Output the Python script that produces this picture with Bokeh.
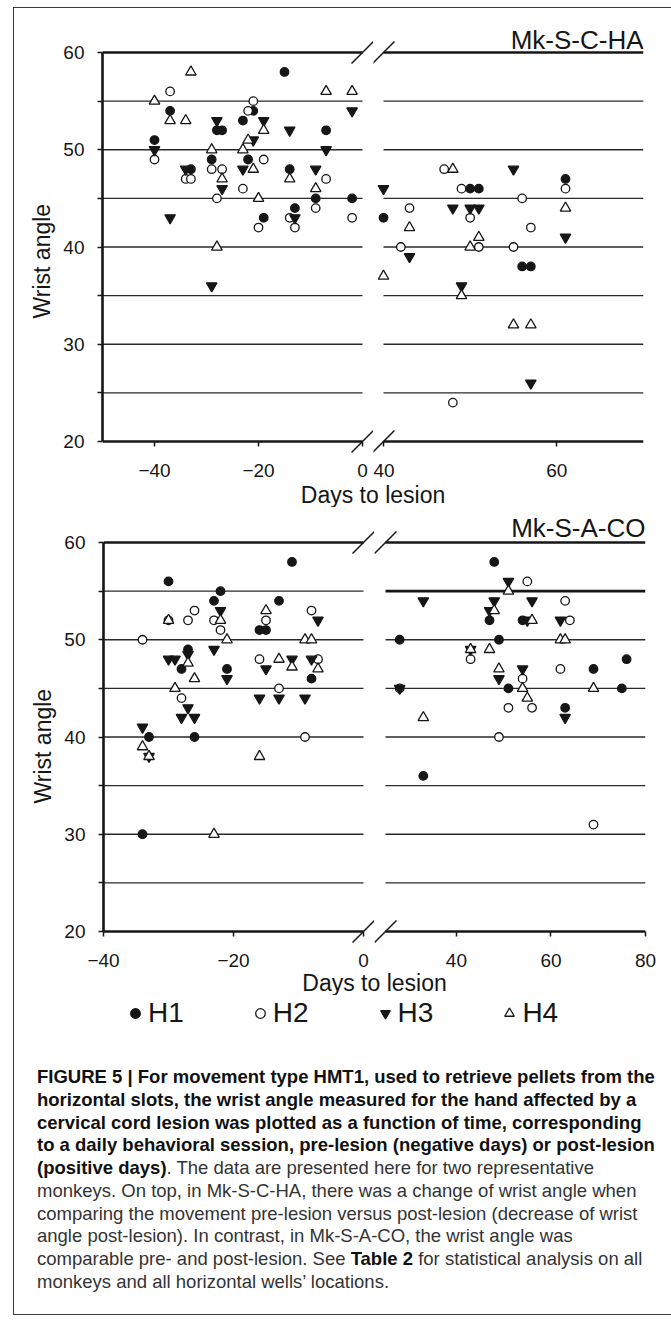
import math
from bokeh.plotting import figure
from bokeh.layouts import column, row
from bokeh.models import (Range1d, Label, Legend, LegendItem, Div, FixedTicker,
                          ColumnDataSource, Title)
from bokeh.embed import file_html
from bokeh.resources import INLINE

# ---------------- data: Mk-S-C-HA (top panel) ----------------
SCHA_H1_DAY = [-40, -37, -33, -29, -28, -27, -23, -22, -21, -19, -15, -14, -13, -9, -7, -2,
               40, 50, 51, 56, 57, 61]
SCHA_H1_ANG = [51, 54, 48, 49, 52, 52, 53, 49, 54, 43, 58, 48, 44, 45, 52, 45,
               43, 46, 46, 38, 38, 47]
SCHA_H2_DAY = [-40, -37, -34, -33, -29, -28, -27, -23, -22, -21, -20, -19, -14, -13, -9, -7, -2,
               42, 43, 47, 48, 49, 50, 51, 55, 56, 57, 61]
SCHA_H2_ANG = [49, 56, 47, 47, 48, 45, 48, 46, 54, 55, 42, 49, 43, 42, 44, 47, 43,
               40, 44, 48, 24, 46, 43, 40, 40, 45, 42, 46]
SCHA_H3_DAY = [-40, -37, -34, -29, -28, -27, -23, -21, -19, -14, -13, -9, -7, -2,
               40, 43, 48, 49, 50, 51, 55, 57, 61]
SCHA_H3_ANG = [50, 43, 48, 36, 53, 46, 48, 51, 53, 52, 43, 48, 50, 54,
               46, 39, 44, 36, 44, 44, 48, 26, 41]
SCHA_H4_DAY = [-40, -37, -34, -33, -29, -28, -27, -23, -22, -21, -20, -19, -14, -9, -7, -2,
               40, 43, 48, 49, 50, 51, 55, 57, 61]
SCHA_H4_ANG = [55, 53, 53, 58, 50, 40, 47, 50, 51, 48, 45, 52, 47, 46, 56, 56,
               37, 42, 48, 35, 40, 41, 32, 32, 44]

# ---------------- data: Mk-S-A-CO (bottom panel) ----------------
SACO_H1_DAY = [-34, -33, -30, -28, -27, -26, -23, -22, -21, -16, -15, -13, -11, -8,
               28, 33, 47, 48, 49, 51, 54, 63, 69, 75, 76]
SACO_H1_ANG = [30, 40, 56, 47, 49, 40, 54, 55, 47, 51, 51, 54, 58, 46,
               50, 36, 52, 58, 50, 45, 52, 43, 47, 45, 48]
SACO_H2_DAY = [-34, -30, -28, -27, -26, -23, -22, -16, -15, -13, -9, -8, -7,
               28, 43, 49, 51, 54, 55, 56, 62, 63, 64, 69]
SACO_H2_ANG = [50, 52, 44, 52, 53, 52, 51, 48, 52, 45, 40, 53, 48,
               45, 48, 40, 43, 46, 56, 43, 47, 54, 52, 31]
SACO_H3_DAY = [-34, -33, -30, -29, -28, -27, -27, -26, -23, -22, -21, -16, -15, -13, -11, -9, -8, -7,
               28, 33, 43, 47, 48, 49, 51, 54, 55, 56, 62, 63]
SACO_H3_ANG = [41, 38, 48, 48, 42, 48.5, 43, 42, 49, 53, 46, 44, 47, 44, 48, 44, 48, 52,
               45, 54, 49, 53, 54, 46, 56, 47, 52, 54, 52, 42]
SACO_H4_DAY = [-34, -33, -30, -29, -27, -26, -23, -22, -21, -16, -15, -13, -11, -9, -8, -7,
               33, 43, 47, 48, 49, 51, 54, 55, 56, 62, 63, 69]
SACO_H4_ANG = [39, 38, 52, 45, 47.6, 46, 30, 52, 50, 38, 53, 48, 47.2, 50, 50, 47,
               42, 49, 49, 53, 47, 55, 45, 44, 52, 50, 50, 45]

SERIES_NAMES = ["H1", "H2", "H3", "H4"]
Y_MIN, Y_MAX = 20, 60
GRID_LEVELS = list(range(20, 61, 5))
Y_LABEL_TICKS = [20, 30, 40, 50, 60]
Y_MINOR_TICKS = [25, 35, 45, 55]

# ---------------- style ----------------
PPU = 9.725          # pixels per degree
INK = "#161616"
GRID = "#2a2a2a"
FONT = "Liberation Sans"
MARKERS = {"H1": ("circle", INK, 8.5), "H2": ("circle", "white", 8.5),
           "H3": ("inverted_triangle", INK, 10.5), "H4": ("triangle", "white", 10.5)}


def half(days_list, ang_list, seg, ppd, frame_w, pad_top, pad_bot, borders, ticks,
         slash_x, side, thick=(), title=None, title_dy=0, ylab_offset=0):
    lo, hi = seg
    if side == "left":
        xr = Range1d(lo, lo + frame_w / ppd)
    else:
        xr = Range1d(hi - frame_w / ppd, hi)
    yr = Range1d(Y_MIN - pad_bot / PPU, Y_MAX + pad_top / PPU)
    frame_h = int(round((Y_MAX - Y_MIN) * PPU + pad_top + pad_bot))
    bl, br, bt, bb = borders
    p = figure(frame_width=frame_w, frame_height=frame_h, x_range=xr, y_range=yr,
               toolbar_location=None, output_backend="svg",
               min_border_left=bl, min_border_right=br, min_border_top=bt, min_border_bottom=bb,
               y_axis_location="left" if side == "left" else None,
               outline_line_color=None, background_fill_color="white", border_fill_color="white")
    p.grid.visible = False

    xa = p.xaxis[0]
    xa.ticker = FixedTicker(ticks=ticks)
    xa.axis_line_color = None
    xa.major_tick_in = pad_bot
    xa.major_tick_out = -(pad_bot - 5)
    xa.major_tick_line_color = INK
    xa.major_tick_line_width = 1.5
    xa.minor_tick_line_color = None
    xa.major_label_standoff = 10
    xa.major_label_text_font = FONT
    xa.major_label_text_font_size = "19px"
    xa.major_label_text_color = INK

    if side == "left":
        ya = p.yaxis[0]
        ya.ticker = FixedTicker(ticks=Y_LABEL_TICKS, minor_ticks=Y_MINOR_TICKS)
        ya.bounds = (Y_MIN, Y_MAX)
        ya.axis_line_width = 2.6
        ya.axis_line_color = INK
        ya.major_tick_out = 5
        ya.major_tick_in = 0
        ya.minor_tick_out = 5
        ya.minor_tick_in = 0
        ya.major_tick_line_width = 1.3
        ya.minor_tick_line_width = 1.3
        ya.major_tick_line_color = INK
        ya.minor_tick_line_color = INK
        ya.major_label_standoff = 13
        ya.major_label_text_font = FONT
        ya.major_label_text_font_size = "19px"
        ya.major_label_text_color = INK
        p.add_layout(Title(text="Wrist angle", align="left", offset=ylab_offset,
                           text_font=FONT, text_font_size="23px", text_font_style="normal",
                           text_color=INK, standoff=12), "left")

    widths = [2.6 if (lv in (Y_MIN, Y_MAX) or lv in thick) else 1.3 for lv in GRID_LEVELS]
    colors = [INK if w > 2 else GRID for w in widths]
    src = ColumnDataSource(dict(x0=[lo] * len(GRID_LEVELS), x1=[hi] * len(GRID_LEVELS),
                                y=GRID_LEVELS, w=widths, c=colors))
    p.segment(x0="x0", x1="x1", y0="y", y1="y", line_width="w", line_color="c", source=src)

    # axis-break marks
    p.scatter(x=[slash_x, slash_x], y=[Y_MIN, Y_MAX], marker="dash", size=31,
              angle=math.pi / 4, line_color=INK, line_width=1.5)

    for name, d, a in zip(SERIES_NAMES, days_list, ang_list):
        mk, fill, size = MARKERS[name]
        xs = [x for x in d if lo <= x <= hi]
        ys = [y for x, y in zip(d, a) if lo <= x <= hi]
        p.scatter(x=xs, y=ys, marker=mk, size=size, fill_color=fill,
                  line_color=INK, line_width=1.3)

    if title:
        p.add_layout(Label(x=hi, y=Y_MAX, text=title, text_align="right",
                           text_baseline="alphabetic", y_offset=title_dy,
                           text_font=FONT, text_font_size="26px", text_color=INK))
    return p


top_days = [SCHA_H1_DAY, SCHA_H2_DAY, SCHA_H3_DAY, SCHA_H4_DAY]
top_angs = [SCHA_H1_ANG, SCHA_H2_ANG, SCHA_H3_ANG, SCHA_H4_ANG]
bot_days = [SACO_H1_DAY, SACO_H2_DAY, SACO_H3_DAY, SACO_H4_DAY]
bot_angs = [SACO_H1_ANG, SACO_H2_ANG, SACO_H3_ANG, SACO_H4_ANG]

tl = half(top_days, top_angs, (-50, 0), 5.2, 271, 28, 12, (88, 0, 16, 26),
          [-40, -20, 0], 0, "left", ylab_offset=135)
tr = half(top_days, top_angs, (40, 70), 260 / 30, 270, 28, 12, (0, 19, 16, 26),
          [40, 60], 40, "right", title="Mk-S-C-HA", title_dy=13)
bl = half(bot_days, bot_angs, (-40, 0), 6.5, 271, 32, 12, (89, 0, 3, 26),
          [-40, -20, 0], 0, "left", ylab_offset=140)
br = half(bot_days, bot_angs, (25, 80), 260 / 55, 271, 32, 12, (0, 17, 3, 26),
          [40, 60, 80], 25, "right", thick=(55,), title="Mk-S-A-CO", title_dy=15)


def text_strip(h, cx, cy, txt):
    f = figure(width=648, height=h, x_range=(0, 1), y_range=(0, 1), toolbar_location=None,
               output_backend="svg", x_axis_location=None, y_axis_location=None,
               outline_line_color=None, min_border=0)
    f.grid.visible = False
    f.add_layout(Label(x=cx, y=cy, x_units="screen", y_units="screen", text=txt,
                       text_align="center", text_baseline="middle", text_font=FONT,
                       text_font_size="23px", text_color=INK))
    return f


days1 = text_strip(28, 358.5, 13, "Days to lesion")
days2 = text_strip(26, 360, 13, "Days to lesion")

# legend
lf = figure(width=648, height=42, x_range=(0, 1), y_range=(0, 1), toolbar_location=None,
            output_backend="svg", x_axis_location=None, y_axis_location=None,
            outline_line_color=None, min_border=0)
lf.grid.visible = False
items = []
for name in SERIES_NAMES:
    mk, fill, size = MARKERS[name]
    r = lf.scatter(x=[math.nan], y=[math.nan], marker=mk, fill_color=fill,
                   line_color=INK, line_width=1.3)
    items.append(LegendItem(label=name, renderers=[r]))
leg = Legend(items=items, orientation="horizontal", location=(109, 8), glyph_width=24,
             glyph_height=24, label_standoff=1, spacing=64, padding=0, margin=0,
             border_line_color=None, background_fill_alpha=0,
             label_text_font=FONT, label_text_font_size="28px",
             label_text_color=INK)
lf.add_layout(leg)

CAPTION_BOLD = ("FIGURE 5 | For movement type HMT1, used to retrieve pellets from the<br>"
                "horizontal slots, the wrist angle measured for the hand affected by a<br>"
                "cervical cord lesion was plotted as a function of time, corresponding<br>"
                "to a daily behavioral session, pre-lesion (negative days) or post-lesion<br>"
                "(positive days)")
CAPTION_REST = (". The data are presented here for two representative<br>"
                "monkeys. On top, in Mk-S-C-HA, there was a change of wrist angle when<br>"
                "comparing the movement pre-lesion versus post-lesion (decrease of wrist<br>"
                "angle post-lesion). In contrast, in Mk-S-A-CO, the wrist angle was<br>"
                "comparable pre- and post-lesion. See <b style=\"color:#111\">Table 2</b> for statistical analysis on all<br>"
                "monkeys and all horizontal wells\u2019 locations.")
caption = Div(text=('<div style="padding:24px 0 0 18px;font-family:\'Liberation Sans\';'
                    'font-size:18.5px;line-height:22.75px;color:#333;white-space:nowrap">'
                    '<b style="color:#111">%s</b>%s</div>') % (CAPTION_BOLD, CAPTION_REST),
              width=648, height=267)

root = column(row(tl, tr), days1, row(bl, br), days2, lf, caption,
              styles={"border": "1px solid #3a3a3a", "margin-left": "13px", "margin-top": "7px"})

open("out.html", "w").write(file_html(root, INLINE))
